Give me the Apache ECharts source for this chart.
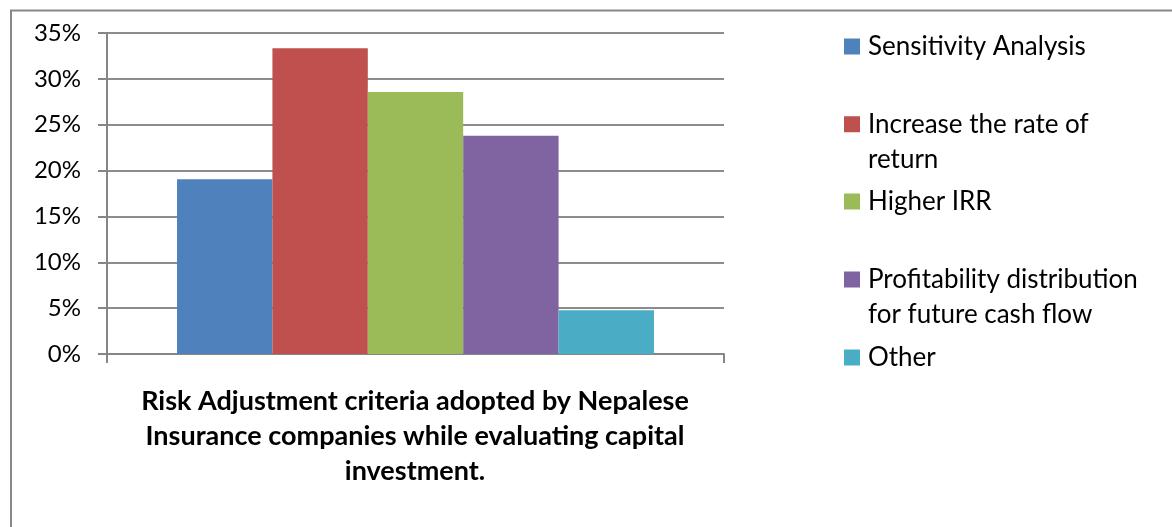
<!DOCTYPE html>
<html>
<head>
<meta charset="utf-8">
<script src="https://cdn.jsdelivr.net/npm/echarts@6/dist/echarts.min.js"></script>
<style>html,body{margin:0;padding:0;background:#fff;}#c{width:1172px;height:527px;}</style>
</head>
<body>
<div id="c"></div>
<script>
var categories = [''];
var seriesNames = ['Sensitivity Analysis', 'Increase the rate of return', 'Higher IRR', 'Profitability distribution for future cash flow', 'Other'];
var legendLines = [['Sensitivity Analysis'], ['Increase the rate of', 'return'], ['Higher IRR'], ['Profitability distribution', 'for future cash flow'], ['Other']];
var values = [0.1905, 0.3333, 0.2857, 0.2381, 0.0476];
var colors = ['#4F81BD', '#C0504D', '#9BBB59', '#8064A2', '#4BACC6'];
var titleText = 'Risk Adjustment criteria adopted by Nepalese\nInsurance companies while evaluating capital\ninvestment.';

var FONT = 'Lato';
var LH = 35;
var legendIconY = [45, 122.7, 200, 278, 356];

var chart = echarts.init(document.getElementById('c'), null, {renderer: 'canvas'});

var series = seriesNames.map(function (n, i) {
  return {
    name: n,
    type: 'bar',
    data: [values[i]],
    itemStyle: {color: colors[i]},
    barGap: '0%',
    barCategoryGap: '22.7%'
  };
});

var legends = seriesNames.map(function (n, i) {
  var lines = legendLines[i];
  var multi = lines.length > 1;
  var h = multi ? 16 + LH : 16;
  return {
    orient: 'vertical',
    left: 844,
    top: legendIconY[i] - 16,
    padding: 0,
    itemWidth: 16,
    itemHeight: h,
    icon: multi ? 'path://M0,0H16V16H0Z M0,' + h + 'L0.01,' + h + 'Z' : 'rect',
    selectedMode: false,
    data: [{name: n}],
    formatter: function () { return lines.join('\n'); },
    textStyle: {
      fontFamily: FONT,
      fontSize: 26,
      color: '#000',
      lineHeight: LH,
      padding: [0, 0, 0, 3]
    }
  };
});

var option = {
  animation: false,
  backgroundColor: '#fff',
  color: colors,
  grid: {left: 107, right: 448, top: 33, bottom: 173, containLabel: false},
  xAxis: {
    type: 'category',
    data: categories,
    axisLine: {show: true, lineStyle: {color: '#868686', width: 2}},
    axisTick: {show: true, alignWithLabel: false, length: 9, lineStyle: {color: '#868686', width: 2}},
    axisLabel: {show: false}
  },
  yAxis: {
    type: 'value',
    min: 0,
    max: 0.35,
    interval: 0.05,
    axisLine: {show: true, lineStyle: {color: '#868686', width: 2}},
    axisTick: {show: true, length: 9, lineStyle: {color: '#868686', width: 2}},
    splitLine: {show: true, lineStyle: {color: '#8c8c8c', width: 2}},
    axisLabel: {
      margin: 26,
      fontFamily: FONT,
      fontSize: 24,
      color: '#000',
      formatter: function (v) { return Math.round(v * 100) + '%'; }
    }
  },
  legend: legends,
  title: {
    text: titleText,
    left: 415,
    top: 384,
    padding: 0,
    textAlign: 'center',
    textStyle: {fontFamily: FONT, fontWeight: 'bold', fontSize: 27, lineHeight: 35, color: '#000'}
  },
  graphic: [{
    type: 'rect',
    shape: {x: 11, y: 10.5, width: 1300, height: 700},
    style: {fill: 'none', stroke: '#888', lineWidth: 2},
    silent: true
  }],
  series: series
};
chart.setOption(option);
</script>
</body>
</html>
